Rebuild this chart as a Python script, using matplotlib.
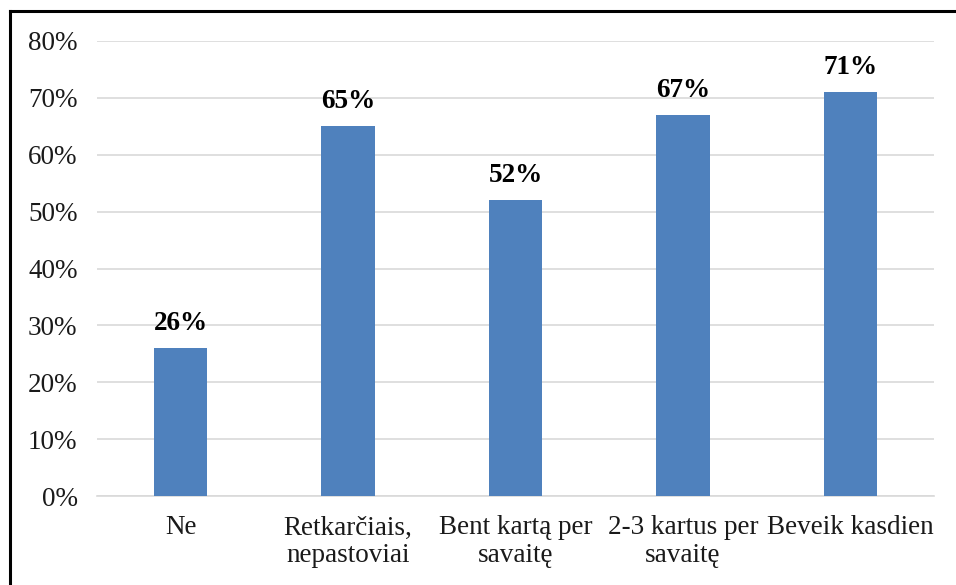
import matplotlib.pyplot as plt
from matplotlib.lines import Line2D
import numpy as np

categories = ["Ne", "Retkarčiais,\nnepastoviai", "Bent kartą per\nsavaitę",
              "2-3 kartus per\nsavaitę", "Beveik kasdien"]
values = [26, 65, 52, 67, 71]
y_ticks = [0, 10, 20, 30, 40, 50, 60, 70, 80]

plt.rcParams['font.family'] = ['Liberation Serif', 'DejaVu Serif']

fig = plt.figure(figsize=(9.56, 5.85), dpi=100)
ax = fig.add_axes([97 / 956, 1 - 496 / 585, 837 / 956, 455 / 585])

x = np.arange(len(categories))
ax.bar(x, values, width=0.32, color='#4F81BD', zorder=3)

for xi, v in zip(x, values):
    ax.text(xi, v + 2.1, f"{v}%", ha='center', va='bottom',
            fontsize=19.5, fontweight='bold', color='black')

ax.set_xlim(-0.5, len(categories) - 0.5)
ax.set_ylim(0, 80)
ax.set_yticks(y_ticks)
ax.set_yticklabels([f"{t}%" for t in y_ticks], fontsize=19.5)
ax.set_xticks(x)
ax.set_xticklabels(categories, fontsize=19.5, linespacing=1.12)
ax.tick_params(axis='both', length=0, colors='#1a1a1a')
ax.tick_params(axis='x', pad=14)
ax.tick_params(axis='y', pad=14)

ax.grid(axis='y', color='#d9d9d9', linewidth=1.2, zorder=0)
for side in ['top', 'right', 'left']:
    ax.spines[side].set_visible(False)
ax.spines['bottom'].set_color('#d9d9d9')
ax.spines['bottom'].set_linewidth(1.2)

# frame lines along the top and left edges
fig.add_artist(Line2D([9.5 / 956, 9.5 / 956], [0, 1 - 11 / 585],
                      transform=fig.transFigure, color='black', linewidth=2.2))
fig.add_artist(Line2D([9.5 / 956, 1], [1 - 11 / 585, 1 - 11 / 585],
                      transform=fig.transFigure, color='black', linewidth=2.2))

fig.savefig("out.png", dpi=100)
